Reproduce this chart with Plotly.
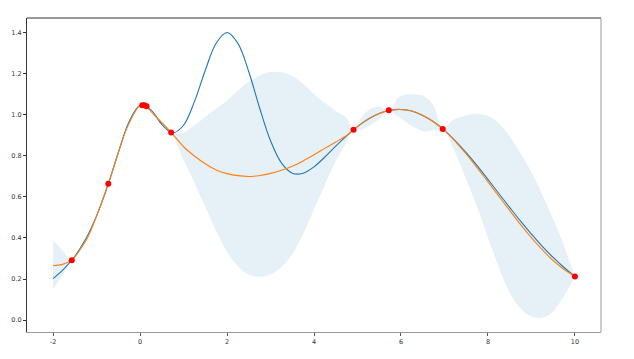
import plotly.graph_objects as go

# true function (blue) on a 0.25 grid
true_x = [-2.0, -1.75, -1.5, -1.25, -1.0, -0.75, -0.5, -0.25, 0.0, 0.25, 0.5, 0.75,
          1.0, 1.25, 1.5, 1.75, 2.0, 2.25, 2.5, 2.75, 3.0, 3.25, 3.5, 3.75,
          4.0, 4.25, 4.5, 4.75, 5.0, 5.25, 5.5, 5.75, 6.0, 6.25, 6.5, 6.75,
          7.0, 7.25, 7.5, 7.75, 8.0, 8.25, 8.5, 8.75, 9.0, 9.25, 9.5, 9.75, 10.0]
true_y = [0.202, 0.249, 0.311, 0.395, 0.508, 0.651, 0.817, 0.968, 1.046, 1.025, 0.954, 0.913,
          0.950, 1.065, 1.218, 1.350, 1.402, 1.349, 1.211, 1.034, 0.874, 0.766, 0.716, 0.716,
          0.747, 0.795, 0.848, 0.898, 0.943, 0.980, 1.007, 1.023, 1.027, 1.019, 0.998, 0.967,
          0.925, 0.874, 0.816, 0.753, 0.686, 0.617, 0.549, 0.482, 0.419, 0.359, 0.305, 0.256, 0.212]

# GP mean (orange) and confidence band
gp_x = [-2.0, -1.8, -1.57, -1.2, -0.73, -0.3, 0.0, 0.1, 0.4, 0.715,
        1.0, 1.25, 1.5, 1.75, 2.0, 2.25, 2.5, 2.75, 3.0, 3.25, 3.5, 3.75,
        4.0, 4.25, 4.5, 4.75, 4.91, 5.1, 5.3, 5.5, 5.72, 5.95, 6.15, 6.35,
        6.55, 6.75, 6.96, 7.2, 7.45, 7.7, 7.95, 8.2, 8.45, 8.7, 8.95, 9.2,
        9.45, 9.7, 10.0]
gp_mean = [0.266, 0.270, 0.293, 0.405, 0.665, 0.937, 1.046, 1.046, 0.984, 0.915,
           0.845, 0.800, 0.762, 0.732, 0.714, 0.704, 0.700, 0.705, 0.715, 0.730, 0.750, 0.776,
           0.806, 0.837, 0.868, 0.900, 0.928, 0.959, 0.987, 1.007, 1.023, 1.027, 1.024, 1.012,
           0.993, 0.967, 0.932, 0.882, 0.822, 0.757, 0.688, 0.618, 0.548, 0.479, 0.414, 0.354,
           0.300, 0.255, 0.212]
band_lo = [0.148, 0.215, 0.293, 0.400, 0.665, 0.934, 1.046, 1.046, 0.979, 0.915,
           0.780, 0.670, 0.552, 0.435, 0.333, 0.262, 0.222, 0.210, 0.222, 0.258, 0.322, 0.420,
           0.540, 0.660, 0.775, 0.868, 0.928, 0.930, 0.950, 0.980, 1.023, 0.990, 0.960, 0.935,
           0.920, 0.925, 0.932, 0.840, 0.712, 0.580, 0.432, 0.285, 0.155, 0.068, 0.022, 0.010,
           0.032, 0.100, 0.212]
band_hi = [0.388, 0.344, 0.293, 0.410, 0.665, 0.940, 1.046, 1.046, 0.989, 0.915,
           0.915, 0.950, 0.990, 1.030, 1.070, 1.120, 1.163, 1.193, 1.210, 1.208, 1.190, 1.152,
           1.102, 1.058, 1.020, 0.985, 0.928, 0.990, 1.030, 1.040, 1.023, 1.085, 1.100, 1.100,
           1.090, 1.045, 0.932, 0.975, 0.995, 1.006, 1.000, 0.970, 0.910, 0.830, 0.740, 0.635,
           0.515, 0.390, 0.212]

# observations (red)
obs_x = [-1.57, -0.73, 0.05, 0.1, 0.15, 0.715, 4.91, 5.72, 6.96, 10.0]
obs_y = [0.292, 0.665, 1.048, 1.048, 1.043, 0.915, 0.928, 1.023, 0.932, 0.212]

x_ticks = [-2, 0, 2, 4, 6, 8, 10]
y_ticks = [0.0, 0.2, 0.4, 0.6, 0.8, 1.0, 1.2, 1.4]

fig = go.Figure()
fig.add_trace(go.Scatter(x=gp_x, y=band_lo, mode="lines",
                         line=dict(width=0, shape="spline", smoothing=1.0),
                         hoverinfo="skip"))
fig.add_trace(go.Scatter(x=gp_x, y=band_hi, mode="lines",
                         line=dict(width=0, shape="spline", smoothing=1.0),
                         fill="tonexty", fillcolor="rgba(31,119,180,0.11)",
                         hoverinfo="skip"))
fig.add_trace(go.Scatter(x=true_x, y=true_y, mode="lines",
                         line=dict(color="#1f77b4", width=1.1, shape="spline")))
fig.add_trace(go.Scatter(x=gp_x, y=gp_mean, mode="lines",
                         line=dict(color="#ff7f0e", width=1.1, shape="spline", smoothing=0.8)))
fig.add_trace(go.Scatter(x=obs_x, y=obs_y, mode="markers",
                         marker=dict(color="#ff0000", size=6, line=dict(width=0))))

axis_font = dict(family="DejaVu Sans", size=6.5, color="#333333")
# the page body has an 8px margin, so the figure is sized to sit inside it
fig.update_layout(
    width=618, height=343,
    margin=dict(l=19, r=25, t=10, b=19, autoexpand=False),
    paper_bgcolor="white", plot_bgcolor="white",
    showlegend=False,
    xaxis=dict(range=[-2.6, 10.6], tickvals=x_ticks, ticktext=[str(v) for v in x_ticks],
               showgrid=False, zeroline=False, showline=True, linecolor="#9a9a9a",
               linewidth=1, ticks="outside", ticklen=3, tickcolor="#555555",
               tickfont=axis_font, automargin=False),
    yaxis=dict(range=[-0.0585, 1.473], tickvals=y_ticks, tickformat=".1f",
               showgrid=False, zeroline=False, showline=True, linecolor="#333333",
               linewidth=1, ticks="outside", ticklen=3, tickcolor="#333333",
               tickfont=axis_font, automargin=False),
    shapes=[
        dict(type="line", xref="paper", yref="paper", x0=0, x1=1, y0=1, y1=1,
             line=dict(color="#333333", width=1)),
        dict(type="line", xref="paper", yref="paper", x0=1, x1=1, y0=0, y1=1,
             line=dict(color="#9a9a9a", width=1)),
    ],
)

fig.write_html("out.html")
